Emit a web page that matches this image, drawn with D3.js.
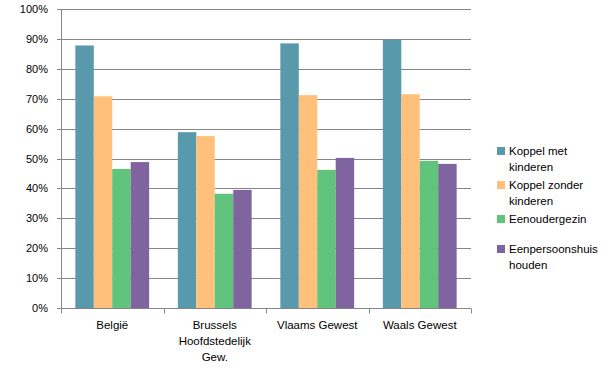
<!DOCTYPE html>
<html>
<head>
<meta charset="utf-8">
<script src="https://cdn.jsdelivr.net/npm/d3@7"></script>
<style>
  body { margin: 0; background: #fff; }
  text { font-family: "Liberation Sans", Arial, sans-serif; font-size: 11px; fill: #000; }
  .lbl { font-size: 11.5px; }
</style>
</head>
<body>
<div id="chart"></div>
<script>
// categories (x axis), with their wrapped label lines
var regions = ["België", "Brussels Hoofdstedelijk Gew.", "Vlaams Gewest", "Waals Gewest"];
var regionLines = [["België"], ["Brussels", "Hoofdstedelijk", "Gew."], ["Vlaams Gewest"], ["Waals Gewest"]];

// series
var series = ["Koppel met kinderen", "Koppel zonder kinderen", "Eenoudergezin", "Eenpersoonshuishouden"];
var seriesLines = [["Koppel met", "kinderen"], ["Koppel zonder", "kinderen"], ["Eenoudergezin"], ["Eenpersoonshuis", "houden"]];
var colors = ["#5899ac", "#ffc07c", "#60c47c", "#7f64a0"];

// values in %, per region
var koppelMet    = [87.8, 58.8, 88.5, 89.7];
var koppelZonder = [70.8, 57.5, 71.2, 71.5];
var eenouder     = [46.5, 38.2, 46.2, 49.2];
var eenpersoon   = [48.8, 39.5, 50.2, 48.2];
var values = [koppelMet, koppelZonder, eenouder, eenpersoon];

var yTicks = [0, 10, 20, 30, 40, 50, 60, 70, 80, 90, 100];

var svgWidth = 605, svgHeight = 378;
var margin = { top: 9, left: 61, right: 134, bottom: 70 };
var width = svgWidth - margin.left - margin.right;
var height = svgHeight - margin.top - margin.bottom;

var svg = d3.select("#chart")
  .append("svg")
  .attr("width", svgWidth)
  .attr("height", svgHeight);

var chartGroup = svg.append("g")
  .attr("transform", `translate(${margin.left}, ${margin.top})`);

var x0 = d3.scaleBand()
  .domain(regions)
  .range([0, width])
  .paddingInner(0.28)
  .paddingOuter(0.14);

var x1 = d3.scaleBand()
  .domain(series)
  .range([0, x0.bandwidth()]);

var y = d3.scaleLinear()
  .domain([0, 100])
  .range([height, 0]);

// gridlines
chartGroup.append("g")
  .selectAll("line")
  .data(yTicks)
  .enter()
  .append("line")
  .attr("x1", -4)
  .attr("x2", width)
  .attr("y1", d => Math.round(y(d)) + 0.5)
  .attr("y2", d => Math.round(y(d)) + 0.5)
  .attr("stroke", "#868686")
  .attr("stroke-width", 1);

// y axis labels
chartGroup.append("g")
  .selectAll("text")
  .data(yTicks)
  .enter()
  .append("text")
  .attr("x", -13)
  .attr("y", d => y(d) + 4)
  .attr("text-anchor", "end")
  .text(d => d + "%");

// bars
var groups = chartGroup.selectAll(".region")
  .data(regions)
  .enter()
  .append("g")
  .attr("transform", d => `translate(${x0(d)}, 0)`);

groups.selectAll("rect")
  .data((d, i) => series.map((s, j) => ({ s: s, v: values[j][i], c: colors[j] })))
  .enter()
  .append("rect")
  .attr("x", d => x1(d.s))
  .attr("width", x1.bandwidth())
  .attr("y", d => y(d.v))
  .attr("height", d => height - y(d.v))
  .attr("fill", d => d.c);

// y axis line
chartGroup.append("line")
  .attr("x1", 0.5).attr("x2", 0.5)
  .attr("y1", 0).attr("y2", height)
  .attr("stroke", "#868686");

// x axis line + ticks at category boundaries
var xBase = Math.round(height) + 0.5;
chartGroup.append("line")
  .attr("x1", 0).attr("x2", width)
  .attr("y1", xBase).attr("y2", xBase)
  .attr("stroke", "#868686");

var step = width / regions.length;
chartGroup.append("g")
  .selectAll("line")
  .data(d3.range(regions.length + 1))
  .enter()
  .append("line")
  .attr("x1", d => Math.round(d * step) + 0.5)
  .attr("x2", d => Math.round(d * step) + 0.5)
  .attr("y1", xBase)
  .attr("y2", xBase + 5)
  .attr("stroke", "#868686");

// x labels
var xLabels = chartGroup.append("g")
  .selectAll("text")
  .data(regions)
  .enter()
  .append("text")
  .attr("class", "lbl")
  .attr("text-anchor", "middle")
  .attr("transform", d => `translate(${x0(d) + x0.bandwidth() / 2}, ${height + 21})`);

xLabels.selectAll("tspan")
  .data((d, i) => regionLines[i])
  .enter()
  .append("tspan")
  .attr("x", 0)
  .attr("y", (d, i) => i * 16)
  .text(d => d);

// legend
var legendY = [151, 185, 219, 249];
var legend = svg.append("g")
  .selectAll("g")
  .data(series)
  .enter()
  .append("g")
  .attr("transform", (d, i) => `translate(497, ${legendY[i]})`);

legend.append("rect")
  .attr("x", 0)
  .attr("y", -4)
  .attr("width", 8)
  .attr("height", 8)
  .attr("fill", (d, i) => colors[i]);

legend.append("text")
  .attr("class", "lbl")
  .selectAll("tspan")
  .data((d, i) => seriesLines[i])
  .enter()
  .append("tspan")
  .attr("x", 12)
  .attr("y", (d, i) => 4 + i * 16)
  .text(d => d);
</script>
</body>
</html>
